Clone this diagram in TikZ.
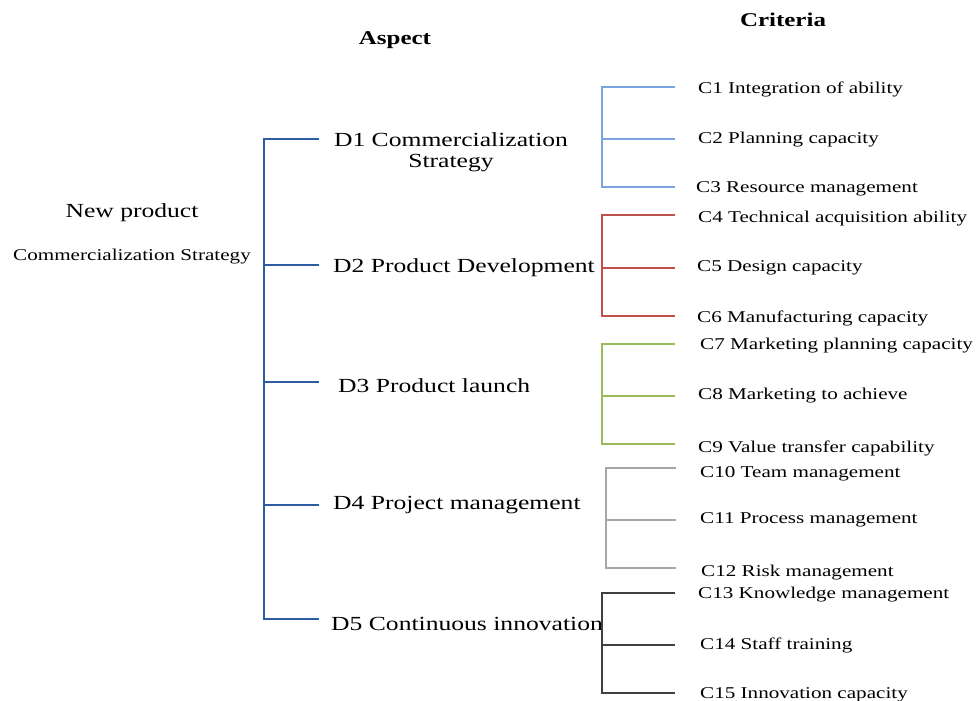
\documentclass[tikz,border=0pt]{standalone}
\usepackage{fontspec}
\setmainfont[FakeStretch=1.28]{Liberation Serif}
\definecolor{mainblue}{HTML}{2F5C9E}
\definecolor{gblue}{HTML}{7BA3DD}
\definecolor{gred}{HTML}{C0504D}
\definecolor{ggreen}{HTML}{9BBB59}
\definecolor{ggray}{HTML}{A6A6A6}
\definecolor{gdark}{HTML}{404040}
\begin{document}
\begin{tikzpicture}[x=1pt,y=-1pt,
  txt/.style={inner sep=0pt, yshift=-2pt},
  clab/.style={txt, anchor=west, font=\fontsize{16.5}{19}\selectfont},
  dlab/.style={txt, anchor=west, font=\fontsize{20}{21}\selectfont},
  ttl/.style={txt, font=\fontsize{19.5}{21}\selectfont\bfseries},
  trunk/.style={draw=mainblue, line width=2pt},
  grp/.style={line width=1.6pt}]
\useasboundingbox (0,0) rectangle (977,701);

% titles
\node[ttl] (aspect) at (395,38) {Aspect};
\node[ttl] (criteria) at (783,18) {Criteria};

% root
\node[txt, font=\fontsize{20}{21}\selectfont] (np) at (132,211) {New product};
\node[txt, font=\fontsize{16.5}{19}\selectfont] (cs) at (132,255) {Commercialization Strategy};

% aspect labels
\node[txt, align=center, font=\fontsize{20}{21}\selectfont] (d1) at (451,150) {D1 Commercialization\\Strategy};
\node[dlab] (d2) at (333,266) {D2 Product Development};
\node[dlab] (d3) at (338,384) {D3 Product launch};
\node[dlab] (d4) at (333,503) {D4 Project management};
\node[dlab] (d5) at (331,622) {D5 Continuous innovation};

% trunk
\coordinate (t1) at (264,139); \coordinate (e1) at (319,139);
\coordinate (t2) at (264,265); \coordinate (e2) at (319,265);
\coordinate (t3) at (264,382); \coordinate (e3) at (319,382);
\coordinate (t4) at (264,505); \coordinate (e4) at (319,505);
\coordinate (t5) at (264,619); \coordinate (e5) at (319,619);
\draw[trunk] (e1) -- (t1) -- (t5) -- (e5);
\draw[trunk] (t2) -- (e2);
\draw[trunk] (t3) -- (e3);
\draw[trunk] (t4) -- (e4);

% criteria labels
\node[clab] (c1) at (698,87) {C1 Integration of ability};
\node[clab] (c2) at (698,138) {C2 Planning capacity};
\node[clab] (c3) at (696,187) {C3 Resource management};
\node[clab] (c4) at (698,217) {C4 Technical acquisition ability};
\node[clab] (c5) at (697,266) {C5 Design capacity};
\node[clab] (c6) at (697,316) {C6 Manufacturing capacity};
\node[clab] (c7) at (700,344) {C7 Marketing planning capacity};
\node[clab] (c8) at (698,394) {C8 Marketing to achieve};
\node[clab] (c9) at (698,446) {C9 Value transfer capability};
\node[clab] (c10) at (700,472) {C10 Team management};
\node[clab] (c11) at (700,518) {C11 Process management};
\node[clab] (c12) at (701,571) {C12 Risk management};
\node[clab] (c13) at (698,593) {C13 Knowledge management};
\node[clab] (c14) at (700,643) {C14 Staff training};
\node[clab] (c15) at (700,693) {C15 Innovation capacity};

% brackets
\foreach \g/\col/\sx/\ex/\ya/\yb/\yc in {1/gblue/602/675/87/139/187,
                                          2/gred/602/675/215/268/316,
                                          3/ggreen/602/675/344/396/444,
                                          4/ggray/606/676/468/520/568,
                                          5/gdark/602/675/593/645/693}{
  \coordinate (g\g a) at (\ex,\ya);
  \coordinate (g\g sa) at (\sx,\ya);
  \coordinate (g\g sb) at (\sx,\yb);
  \coordinate (g\g b) at (\ex,\yb);
  \coordinate (g\g sc) at (\sx,\yc);
  \coordinate (g\g c) at (\ex,\yc);
  \draw[grp, draw=\col] (g\g a) -- (g\g sa) -- (g\g sc) -- (g\g c);
  \draw[grp, draw=\col] (g\g sb) -- (g\g b);
}
\end{tikzpicture}
\end{document}
